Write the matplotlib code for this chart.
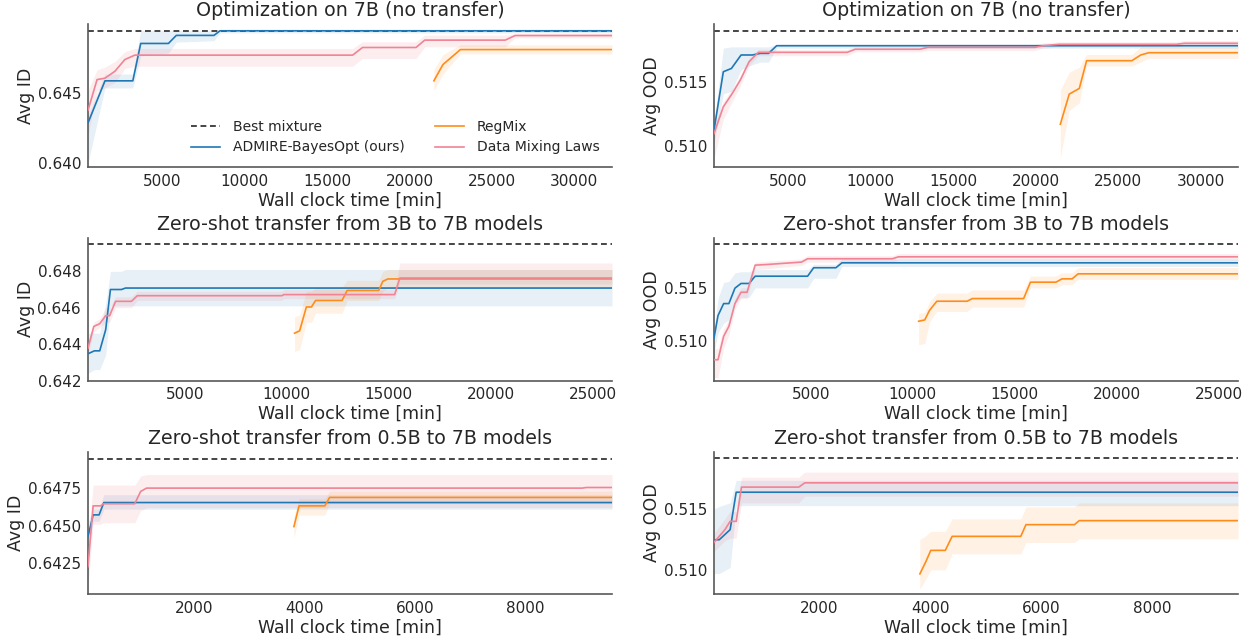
import matplotlib
matplotlib.use("Agg")
import matplotlib.pyplot as plt
from matplotlib.ticker import FormatStrFormatter
from matplotlib.lines import Line2D

# ---------------- data ----------------
TITLES = ["Optimization on 7B (no transfer)",
          "Zero-shot transfer from 3B to 7B models",
          "Zero-shot transfer from 0.5B to 7B models"]
YLABELS = ["Avg ID", "Avg OOD"]
XLABEL = "Wall clock time [min]"
LEGEND_LABELS = ["Best mixture", "ADMIRE-BayesOpt (ours)", "RegMix", "Data Mixing Laws"]

# best mixture reference values (dashed)
BEST = {"p1": 0.64951, "p2": 0.51907, "p3": 0.6495, "p4": 0.51912, "p5": 0.64946, "p6": 0.51915}

# ---- Panel 1: ID, 7B ----
P1_ADM_T = [480, 1510, 3200, 3680, 5360, 5840, 8125, 8490, 32280]
P1_ADM_M = [0.64288, 0.64591, 0.64591, 0.64860, 0.64860, 0.64918, 0.64918, 0.64951, 0.64951]
P1_ADM_LO = [0.6400, 0.6454, 0.6454, 0.6477, 0.6479, 0.6487, 0.6488, 0.64935, 0.64935]
P1_ADM_HI = [0.6434, 0.6464, 0.6464, 0.64952, 0.64952, 0.64952, 0.64952, 0.64962, 0.64962]
P1_DML_T = [480, 1030, 1510, 2115, 2716, 3317, 16540, 17140, 20385, 20915, 25800, 26400, 32280]
P1_DML_M = [0.64379, 0.64600, 0.64610, 0.64660, 0.64744, 0.64776, 0.64776, 0.64831, 0.64831, 0.64884, 0.64884, 0.64917, 0.64917]
P1_DML_HI = [0.6452, 0.6467, 0.6469, 0.6473, 0.6480, 0.64824, 0.64824, 0.64872, 0.64872, 0.6492, 0.6492, 0.6493, 0.6493]
P1_DML_LO = [0.6420, 0.6452, 0.6454, 0.6458, 0.6468, 0.64696, 0.64696, 0.64752, 0.64752, 0.64836, 0.64836, 0.6490, 0.6490]
P1_REG_T = [21470, 22020, 23080, 32280]
P1_REG_M = [0.64591, 0.64708, 0.64816, 0.64816]
P1_REG_HI = [0.64672, 0.64780, 0.64850, 0.64850]
P1_REG_LO = [0.64523, 0.64640, 0.64785, 0.64785]

# ---- Panel 2: OOD, 7B ----
P2_ADM_T = [525, 1090, 1580, 2165, 2850, 3340, 3830, 4320, 32260]
P2_ADM_M = [0.51124, 0.51584, 0.51610, 0.51716, 0.51716, 0.51729, 0.51729, 0.51789, 0.51789]
P2_ADM_HI = [0.5118, 0.5177, 0.5178, 0.5178, 0.5178, 0.5178, 0.5178, 0.5180, 0.5180]
P2_ADM_LO = [0.5102, 0.5141, 0.5143, 0.5160, 0.5164, 0.5166, 0.5166, 0.5177, 0.5177]
P2_DML_T = [525, 1090, 1630, 2115, 2650, 3215, 8590, 9080, 12990, 13480, 19960, 20450, 21430, 28520, 29010, 32260]
P2_DML_M = [0.51097, 0.51308, 0.51413, 0.51518, 0.51663, 0.51737, 0.51737, 0.51761, 0.51761, 0.51776, 0.51776, 0.51789, 0.51800, 0.51800, 0.51808, 0.51808]
P2_DML_HI = [0.5115, 0.5135, 0.5145, 0.5155, 0.5169, 0.5176, 0.5176, 0.5178, 0.5178, 0.5180, 0.5180, 0.5181, 0.5182, 0.5182, 0.5183, 0.5183]
P2_DML_LO = [0.5090, 0.5121, 0.5135, 0.5147, 0.5163, 0.5171, 0.5171, 0.5174, 0.5174, 0.5175, 0.5175, 0.5177, 0.5178, 0.5178, 0.5179, 0.5179]
P2_REG_T = [21500, 22040, 22650, 23090, 25830, 26370, 26860, 32260]
P2_REG_M = [0.51171, 0.51408, 0.51453, 0.51671, 0.51671, 0.51716, 0.51734, 0.51734]
P2_REG_HI = [0.5144, 0.5158, 0.5162, 0.5172, 0.5172, 0.5178, 0.5178, 0.5178]
P2_REG_LO = [0.5091, 0.5128, 0.5134, 0.5163, 0.5163, 0.5166, 0.5169, 0.5169]

# ---- Panel 3: ID, 3B -> 7B ----
P3_ADM_T = [250, 565, 825, 1117, 1350, 1893, 2087, 25950]
P3_ADM_M = [0.64347, 0.64363, 0.64363, 0.64479, 0.64700, 0.64700, 0.64708, 0.64708]
P3_ADM_HI = [0.6446, 0.6446, 0.6446, 0.6462, 0.6480, 0.6480, 0.6481, 0.6481]
P3_ADM_LO = [0.6424, 0.6426, 0.6426, 0.6434, 0.6461, 0.6461, 0.6461, 0.6461]
P3_DML_T = [250, 534, 825, 1117, 1311, 1602, 2379, 2670, 9757, 9854, 15290, 15544, 25950]
P3_DML_M = [0.64378, 0.64497, 0.64512, 0.64556, 0.64556, 0.64635, 0.64635, 0.64666, 0.64666, 0.64672, 0.64672, 0.64763, 0.64763]
P3_DML_HI = [0.6441, 0.6452, 0.6454, 0.6460, 0.6460, 0.6466, 0.6466, 0.6469, 0.6469, 0.6470, 0.6470, 0.64846, 0.64846]
P3_DML_LO = [0.6434, 0.6447, 0.6449, 0.6452, 0.6452, 0.6460, 0.6460, 0.6464, 0.6464, 0.6465, 0.6465, 0.6473, 0.6473]
P3_REG_T = [10380, 10630, 10960, 11210, 11410, 12710, 12960, 14510, 14710, 14960, 25950]
P3_REG_M = [0.64460, 0.64473, 0.64604, 0.64604, 0.64640, 0.64640, 0.64695, 0.64695, 0.64745, 0.64758, 0.64758]
P3_REG_HI = [0.6455, 0.6456, 0.6469, 0.6469, 0.6471, 0.6471, 0.6475, 0.6475, 0.6480, 0.6481, 0.6481]
P3_REG_LO = [0.6436, 0.6437, 0.6452, 0.6452, 0.6457, 0.6457, 0.6464, 0.6464, 0.6469, 0.6471, 0.6471]

# ---- Panel 4: OOD, 3B -> 7B ----
P4_ADM_T = [250, 447, 723, 980, 1277, 1574, 1970, 2267, 4842, 5139, 6228, 6525, 25950]
P4_ADM_M = [0.51031, 0.51241, 0.51353, 0.51353, 0.51497, 0.51541, 0.51541, 0.51609, 0.51609, 0.51688, 0.51688, 0.51734, 0.51734]
P4_ADM_HI = [0.5111, 0.5140, 0.5155, 0.5156, 0.5164, 0.5165, 0.5165, 0.5167, 0.5167, 0.5172, 0.5172, 0.5177, 0.5177]
P4_ADM_LO = [0.5090, 0.5108, 0.5117, 0.5120, 0.5135, 0.5141, 0.5141, 0.5150, 0.5150, 0.5159, 0.5159, 0.5170, 0.5170]
P4_DML_T = [250, 447, 723, 980, 1277, 1574, 1871, 2267, 2900, 4545, 4842, 9000, 9297, 25950]
P4_DML_M = [0.50828, 0.50828, 0.51047, 0.51140, 0.51353, 0.51459, 0.51459, 0.51712, 0.51719, 0.51741, 0.51772, 0.51772, 0.51790, 0.51790]
P4_DML_HI = [0.5093, 0.5093, 0.5112, 0.5120, 0.5140, 0.5150, 0.5150, 0.5174, 0.5175, 0.5177, 0.5180, 0.5180, 0.5182, 0.5182]
P4_DML_LO = [0.5066, 0.5066, 0.5094, 0.5106, 0.5130, 0.5140, 0.5140, 0.5167, 0.5168, 0.5171, 0.5174, 0.5174, 0.5176, 0.5176]
P4_REG_T = [10287, 10584, 10822, 11178, 12663, 12921, 15436, 15772, 17020, 17317, 17812, 18109, 25950]
P4_REG_M = [0.51188, 0.51200, 0.51290, 0.51375, 0.51375, 0.51400, 0.51400, 0.51553, 0.51553, 0.51584, 0.51584, 0.51631, 0.51631]
P4_REG_HI = [0.5126, 0.5127, 0.5137, 0.5145, 0.5145, 0.5148, 0.5148, 0.5161, 0.5161, 0.5164, 0.5164, 0.5169, 0.5169]
P4_REG_LO = [0.5097, 0.5098, 0.5118, 0.5128, 0.5128, 0.5132, 0.5132, 0.5150, 0.5150, 0.5153, 0.5153, 0.5158, 0.5158]

# ---- Panel 5: ID, 0.5B -> 7B ----
P5_ADM_T = [72, 165, 273, 359, 9576]
P5_ADM_M = [0.64428, 0.64572, 0.64572, 0.64654, 0.64654]
P5_ADM_HI = [0.6452, 0.6461, 0.6461, 0.64706, 0.64706]
P5_ADM_LO = [0.6434, 0.6453, 0.6453, 0.6461, 0.6461]
P5_DML_T = [72, 165, 300, 359, 920, 1027, 1135, 9037, 9109, 9576]
P5_DML_M = [0.64228, 0.64632, 0.64632, 0.64646, 0.64646, 0.64728, 0.64750, 0.64750, 0.64754, 0.64754]
P5_DML_HI = [0.6440, 0.6477, 0.6477, 0.6477, 0.6477, 0.6483, 0.6484, 0.6484, 0.6484, 0.6484]
P5_DML_LO = [0.6410, 0.6451, 0.6451, 0.6452, 0.6452, 0.6460, 0.6462, 0.6462, 0.6462, 0.6462]
P5_REG_T = [3807, 3900, 4368, 4454, 9576]
P5_REG_M = [0.64494, 0.64632, 0.64632, 0.64688, 0.64688]
P5_REG_HI = [0.64561, 0.6468, 0.6468, 0.6473, 0.6473]
P5_REG_LO = [0.64417, 0.6457, 0.6457, 0.64646, 0.64646]

# ---- Panel 6: OOD, 0.5B -> 7B ----
P6_ADM_T = [113, 207, 403, 512, 9533]
P6_ADM_M = [0.51247, 0.51247, 0.51330, 0.51637, 0.51637]
P6_ADM_HI = [0.5150, 0.5152, 0.5155, 0.51734, 0.51734]
P6_ADM_LO = [0.5097, 0.5097, 0.5102, 0.51527, 0.51527]
P6_DML_T = [113, 310, 403, 512, 607, 1637, 1746, 9533]
P6_DML_M = [0.51225, 0.51330, 0.51398, 0.51398, 0.51679, 0.51679, 0.51714, 0.51714]
P6_DML_HI = [0.5130, 0.5142, 0.5148, 0.5148, 0.5176, 0.5176, 0.51802, 0.51802]
P6_DML_LO = [0.5115, 0.5124, 0.5126, 0.5126, 0.5155, 0.5155, 0.51604, 0.51604]
P6_REG_T = [3814, 3923, 4010, 4271, 4394, 5628, 5721, 6592, 6679, 9533]
P6_REG_M = [0.50967, 0.51069, 0.51160, 0.51160, 0.51275, 0.51275, 0.51371, 0.51371, 0.51404, 0.51404]
P6_REG_HI = [0.51250, 0.51280, 0.51316, 0.51316, 0.51418, 0.51418, 0.51516, 0.51516, 0.51549, 0.51549]
P6_REG_LO = [0.50840, 0.50930, 0.51000, 0.51000, 0.51132, 0.51132, 0.51225, 0.51225, 0.51255, 0.51255]

# axis settings
XLIMS = {"p1": (480, 32280), "p2": (525, 32260), "p3": (250, 25950),
         "p4": (250, 25950), "p5": (72, 9576), "p6": (113, 9533)}
YLIMS = {"p1": (0.63971, 0.6500), "p2": (0.50834, 0.5196), "p3": (0.642, 0.64983),
         "p4": (0.50634, 0.51966), "p5": (0.64046, 0.6499), "p6": (0.50802, 0.51967)}
XTICKS = {"p1": [5000, 10000, 15000, 20000, 25000, 30000],
          "p2": [5000, 10000, 15000, 20000, 25000, 30000],
          "p3": [5000, 10000, 15000, 20000, 25000],
          "p4": [5000, 10000, 15000, 20000, 25000],
          "p5": [2000, 4000, 6000, 8000],
          "p6": [2000, 4000, 6000, 8000]}
YTICKS = {"p1": [0.640, 0.645], "p2": [0.510, 0.515], "p3": [0.642, 0.644, 0.646, 0.648],
          "p4": [0.510, 0.515], "p5": [0.6425, 0.6450, 0.6475], "p6": [0.510, 0.515]}
YFMT = {"p1": "%.3f", "p2": "%.3f", "p3": "%.3f", "p4": "%.3f", "p5": "%.4f", "p6": "%.3f"}

PANELS = {
    "p1": [(P1_ADM_T, P1_ADM_M, P1_ADM_LO, P1_ADM_HI), (P1_REG_T, P1_REG_M, P1_REG_LO, P1_REG_HI),
           (P1_DML_T, P1_DML_M, P1_DML_LO, P1_DML_HI)],
    "p2": [(P2_ADM_T, P2_ADM_M, P2_ADM_LO, P2_ADM_HI), (P2_REG_T, P2_REG_M, P2_REG_LO, P2_REG_HI),
           (P2_DML_T, P2_DML_M, P2_DML_LO, P2_DML_HI)],
    "p3": [(P3_ADM_T, P3_ADM_M, P3_ADM_LO, P3_ADM_HI), (P3_REG_T, P3_REG_M, P3_REG_LO, P3_REG_HI),
           (P3_DML_T, P3_DML_M, P3_DML_LO, P3_DML_HI)],
    "p4": [(P4_ADM_T, P4_ADM_M, P4_ADM_LO, P4_ADM_HI), (P4_REG_T, P4_REG_M, P4_REG_LO, P4_REG_HI),
           (P4_DML_T, P4_DML_M, P4_DML_LO, P4_DML_HI)],
    "p5": [(P5_ADM_T, P5_ADM_M, P5_ADM_LO, P5_ADM_HI), (P5_REG_T, P5_REG_M, P5_REG_LO, P5_REG_HI),
           (P5_DML_T, P5_DML_M, P5_DML_LO, P5_DML_HI)],
    "p6": [(P6_ADM_T, P6_ADM_M, P6_ADM_LO, P6_ADM_HI), (P6_REG_T, P6_REG_M, P6_REG_LO, P6_REG_HI),
           (P6_DML_T, P6_DML_M, P6_DML_LO, P6_DML_HI)],
}

COLORS = ["#1f77b4", "#ff8c1a", "#f08394"]   # ADMIRE, RegMix, DML
BAND_ALPHA = [0.11, 0.12, 0.14]

# ---------------- figure ----------------
plt.rcParams["font.family"] = ["DejaVu Sans"]
plt.rcParams["text.color"] = "0.15"
plt.rcParams["axes.labelcolor"] = "0.15"
plt.rcParams["xtick.color"] = "0.15"
plt.rcParams["ytick.color"] = "0.15"

W, H = 1251, 639
fig = plt.figure(figsize=(W / 100, H / 100), dpi=100)

col_x = [88, 714]
col_w = 524
row_top = [24, 238, 452]
row_h = [143, 142.5, 142]

keys = [["p1", "p2"], ["p3", "p4"], ["p5", "p6"]]
for r in range(3):
    for c in range(2):
        k = keys[r][c]
        ax = fig.add_axes([col_x[c] / W, 1 - (row_top[r] + row_h[r]) / H, col_w / W, row_h[r] / H])
        ax.axhline(BEST[k], color="0.15", ls="--", lw=1.2, dashes=(3.5, 2.2), zorder=1)
        handles = []
        for (t, m, lo, hi), col, a in zip(PANELS[k], COLORS, BAND_ALPHA):
            ax.fill_between(t, lo, hi, color=col, alpha=a, lw=0, zorder=2)
            h, = ax.plot(t, m, color=col, lw=1.2, zorder=3)
            handles.append(h)
        ax.set_xlim(*XLIMS[k])
        ax.set_ylim(*YLIMS[k])
        ax.set_xticks(XTICKS[k])
        ax.set_yticks(YTICKS[k])
        ax.yaxis.set_major_formatter(FormatStrFormatter(YFMT[k]))
        ax.tick_params(axis="both", length=0, pad=5, labelsize=11)
        for s in ["top", "right"]:
            ax.spines[s].set_visible(False)
        for s in ["left", "bottom"]:
            ax.spines[s].set_color("0.35")
            ax.spines[s].set_linewidth(1.2)
        ax.set_title(TITLES[r], fontsize=13.7, pad=6)
        ax.set_xlabel(XLABEL, fontsize=12.5, labelpad=2)
        ax.set_ylabel(YLABELS[c], fontsize=12.5, labelpad=2)
        if k == "p1":
            best_h = Line2D([], [], color="0.15", ls="--", lw=1.2, dashes=(3.5, 2.2))
            ax.legend([best_h, handles[0], handles[1], handles[2]], LEGEND_LABELS,
                      ncol=2, frameon=False, fontsize=10, loc="lower right",
                      bbox_to_anchor=(1.0, 0.0), columnspacing=2.2,
                      handlelength=2.1, handletextpad=0.9, labelspacing=0.45)

fig.savefig("out.png", dpi=100)
